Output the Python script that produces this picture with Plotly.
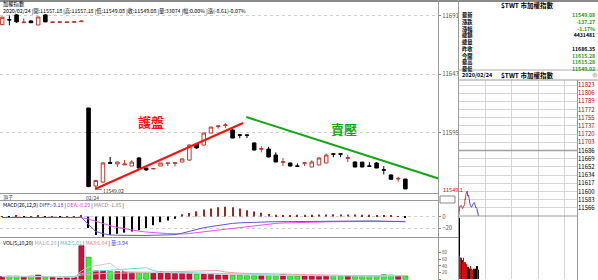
import plotly.graph_objects as go

W, H = 598, 280
FONT = "Noto Sans CJK TC"

# ---------------- data ----------------
candle_open = [11683.5, 11687.5, 11691.4, 11685.0, 11686.5, 11683.2, 11691.4, 11685.2, 11685.3, 11685.2,
               11685.4, 11685.9, 11615.28, 11551.5, 11554.7, 11570.6, 11569.5, 11568.7, 11567.8, 11574.4,
               11566.2, 11565.5, 11567.8, 11570.0, 11570.0, 11571.1, 11572.7, 11585.8, 11585.0, 11594.8,
               11600.0, 11601.0, 11597.3, 11593.4, 11593.2, 11586.7, 11581.5, 11581.7, 11576.8, 11570.8,
               11570.3, 11567.9, 11570.0, 11567.0, 11568.7, 11570.3, 11577.8, 11577.8, 11574.0, 11571.1,
               11571.0, 11567.9, 11570.3, 11564.8, 11560.5, 11557.2, 11557.18]
candle_high = [11690.0, 11691.0, 11692.0, 11688.5, 11687.0, 11690.0, 11692.0, 11685.8, 11685.9, 11685.8,
               11686.0, 11686.6, 11615.28, 11556.5, 11571.0, 11575.2, 11571.1, 11572.7, 11572.5, 11575.0,
               11566.2, 11566.0, 11570.3, 11570.5, 11570.8, 11574.0, 11585.5, 11586.5, 11595.0, 11600.0,
               11600.8, 11603.0, 11598.0, 11593.5, 11593.5, 11587.0, 11584.0, 11583.5, 11579.0, 11574.4,
               11570.5, 11570.0, 11570.5, 11572.5, 11575.2, 11578.0, 11578.0, 11578.0, 11577.0, 11571.5,
               11571.2, 11571.0, 11571.0, 11567.8, 11561.0, 11559.0, 11557.18]
candle_low = [11683.0, 11683.0, 11685.0, 11685.0, 11684.8, 11683.0, 11685.5, 11685.0, 11685.1, 11685.0,
              11685.2, 11685.8, 11550.5, 11549.02, 11554.0, 11570.0, 11567.0, 11568.7, 11567.8, 11566.0,
              11564.0, 11565.0, 11567.8, 11567.8, 11567.5, 11571.0, 11572.0, 11582.0, 11584.5, 11594.5,
              11598.5, 11599.0, 11590.5, 11590.5, 11590.7, 11580.5, 11579.0, 11575.0, 11571.0, 11567.8,
              11567.5, 11567.5, 11567.8, 11567.0, 11568.5, 11570.0, 11575.0, 11575.0, 11571.0, 11566.8,
              11566.8, 11567.5, 11566.0, 11561.0, 11556.5, 11555.0, 11549.08]
candle_close = [11689.5, 11687.3, 11685.7, 11685.5, 11685.0, 11689.7, 11685.7, 11685.6, 11685.7, 11685.6,
                11685.8, 11686.35, 11551.0, 11556.0, 11570.3, 11570.1, 11571.1, 11569.5, 11571.1, 11566.2,
                11564.6, 11565.8, 11570.3, 11570.3, 11570.5, 11573.6, 11585.0, 11582.6, 11594.8, 11599.7,
                11600.6, 11601.4, 11590.7, 11593.0, 11593.0, 11580.9, 11582.0, 11575.2, 11571.1, 11571.3,
                11567.8, 11567.6, 11570.4, 11571.1, 11574.4, 11576.8, 11577.5, 11577.5, 11574.6, 11567.0,
                11567.0, 11567.6, 11566.2, 11564.4, 11557.0, 11557.69, 11549.08]
volume = [8, 10, 10, 8, 10, 13, 6, 6, 4, 6,
          6, 100, 66, 25, 25, 23, 23, 23, 20, 20,
          20, 18, 23, 20, 18, 18, 18, 16, 16, 16,
          13, 13, 13, 13, 11, 11, 11, 11, 11, 14,
          11, 10, 10, 10, 9, 10, 11, 9, 10, 10,
          9, 11, 10, 14, 13, 10, 10]
vol_ma5 = [9, 9, 9, 9, 9.2, 10.2, 9.4, 8.6, 7.8, 7.0,
           5.6, 24.4, 36.4, 40.6, 44.4, 47.8, 32.4, 23.8, 22.8, 21.8,
           21.2, 20.2, 20.2, 20.2, 19.8, 19.4, 19.4, 18.0, 17.2, 16.8,
           15.8, 14.8, 14.2, 13.6, 12.6, 12.2, 11.8, 11.4, 11.0, 11.6,
           11.6, 11.4, 11.2, 11.0, 10.0, 9.8, 10.0, 9.8, 9.8, 10.0,
           9.8, 9.8, 10.0, 10.8, 11.4, 11.6, 11.4]
vol_ma10 = [8, 8, 8, 8, 8, 8, 8, 8, 8, 8.1,
            7.9, 16.9, 22.5, 24.2, 25.7, 26.7, 28.4, 30.1, 31.7, 33.1,
            34.5, 26.3, 22.0, 21.5, 20.8, 20.3, 19.8, 19.1, 18.7, 18.3,
            17.6, 17.1, 16.1, 15.4, 14.7, 14.0, 13.3, 12.8, 12.3, 12.1,
            11.9, 11.6, 11.3, 11.0, 10.8, 10.7, 10.7, 10.5, 10.4, 10.0,
            9.8, 9.9, 9.9, 10.3, 10.7, 10.7, 10.6]
vol_ma20 = [8, 8, 8, 8, 8, 8, 8, 8, 8, 8,
            8, 12.6, 15.5, 16.3, 17.2, 17.9, 18.7, 19.4, 20.0, 20.6,
            21.2, 21.6, 22.3, 22.9, 23.3, 23.5, 24.1, 24.6, 25.2, 25.7,
            26.1, 21.7, 19.1, 18.5, 17.8, 17.2, 16.6, 16.0, 15.5, 15.2,
            14.8, 14.4, 13.7, 13.2, 12.8, 12.4, 12.0, 11.7, 11.4, 11.1,
            10.9, 10.8, 10.6, 10.7, 10.8, 10.7, 10.7]
macd_diff = [-1.8, -1.9, -1.7, -1.9, -2.0, -1.8, -1.7, -1.9, -2.0, -2.0,
             -2.0, -1.6, -14, -26, -30, -32, -32.5, -33, -33, -33,
             -33, -32.5, -32, -31, -31.5, -29, -25.5, -22.5, -19.5, -17.5,
             -15.5, -13.5, -12, -11, -10.3, -9.8, -9.5, -9.3, -9.1, -8.9,
             -8.7, -8.5, -8.3, -8.1, -8.0, -7.9, -7.8, -7.7, -7.6, -7.6,
             -7.6, -7.7, -7.8, -8.0, -8.4, -8.7, -9.18]
macd_dea = [-1.9, -1.9, -1.8, -1.8, -1.9, -1.9, -1.8, -1.8, -1.9, -1.9,
            -2.0, -1.9, -4.5, -8.5, -12.5, -16, -19, -21.5, -23.5, -25.5,
            -27, -28.3, -29.3, -29.8, -30, -30.5, -29.5, -28, -26.5, -25,
            -23.5, -22, -20.3, -18.7, -17, -15.5, -14.2, -13, -12, -11.3,
            -10.8, -10.3, -10.0, -9.7, -9.5, -9.3, -9.1, -8.9, -8.7, -8.6,
            -8.5, -8.4, -8.3, -8.25, -8.25, -8.25, -8.29]
macd_hist = [0.8, -0.6, 1.0, -0.5, 0.7, 1.2, -0.8, 0.6, -0.4, 0.5,
             0.6, 1.0, -20, -32, -35, -32, -30, -28, -26, -24,
             -20, -15, -10, -7, -4, 4, 6, 9, 12, 14,
             16, 17, 16, 14, 11, 8.5, 6.5, 4.5, 3, 2.5,
             2.5, 3, 3, 3, 3.5, 3.5, 4, 3.5, 3.5, 3.5,
             3, 3, 2.5, 2, 1, 0.5, -1.85]

support_x = [12.9, 33.45]
support_y = [11549.0, 11603.0]
resist_x = [33.9, 60.8]
resist_y = [11607.9, 11557.2]

main_tick_vals = [11595, 11643, 11691]
main_tick_text = ["11595", "11643", "11691"]
macd_tick_vals = [0, -20]
vol_tick_vals = [0, 20, 40, 60, 80]

prev_close = 11686.35
max_change = 137.27
mini_tick_text = ["11823", "11806", "11789", "11772", "11755", "11737", "11720", "11703",
                  "11686", "11669", "11652", "11634", "11617", "11600", "11583", "11566"]
mini_hour_marks = [60, 120, 180, 240]

quote_labels = ["最新", "漲跌", "漲幅", "總額", "總量", "昨收", "今開", "最高", "最低"]
quote_values = ["11549.08", "-137.27", "-1.17%", "4431481", "", "11686.35", "11615.28", "11615.28", "11549.02"]
quote_colors = ["#1f9a1f", "#1f9a1f", "#1f9a1f", "#000000", "#000000", "#000000", "#1f9a1f", "#1f9a1f", "#1f9a1f"]

day_start = 12  # first candle of 02/24

# ---------------- figure ----------------
n = len(candle_close)
idx = list(range(n))
UP, DOWN = "#c0392b", "#000000"

def fx(p):
    return p / W

def fy(p):
    return 1 - p / H

fig = go.Figure()

fig.add_trace(go.Candlestick(
    x=idx, open=candle_open, high=candle_high, low=candle_low, close=candle_close,
    increasing=dict(line=dict(color=UP, width=1), fillcolor="white"),
    decreasing=dict(line=dict(color=DOWN, width=1), fillcolor=DOWN),
    whiskerwidth=0, showlegend=False, hoverinfo="skip", xaxis="x", yaxis="y"))
fig.add_trace(go.Scatter(x=support_x, y=support_y, mode="lines", line=dict(color="#ff1010", width=2),
                         showlegend=False, xaxis="x", yaxis="y"))
fig.add_trace(go.Scatter(x=resist_x, y=resist_y, mode="lines", line=dict(color="#16a516", width=2),
                         showlegend=False, xaxis="x", yaxis="y"))

# MACD
fig.add_trace(go.Bar(x=idx, y=macd_hist, width=0.16,
                     marker=dict(color=["#9a2a2a" if v >= 0 else "#000000" for v in macd_hist], line=dict(width=0)),
                     showlegend=False, xaxis="x2", yaxis="y2"))
fig.add_trace(go.Scatter(x=idx, y=macd_dea, mode="lines", line=dict(color="#f050f0", width=1),
                         showlegend=False, xaxis="x2", yaxis="y2"))
fig.add_trace(go.Scatter(x=idx, y=macd_diff, mode="lines", line=dict(color="#5a5ad0", width=1),
                         showlegend=False, xaxis="x2", yaxis="y2"))

# Volume
vol_up = [c >= o for o, c in zip(candle_open, candle_close)]
fig.add_trace(go.Bar(x=idx, y=volume, width=0.72,
                     marker=dict(color=["#d0103c" if u else "#3cf03c" for u in vol_up],
                                 line=dict(color=["#700020" if u else "#108010" for u in vol_up], width=0.5)),
                     showlegend=False, xaxis="x3", yaxis="y3"))
fig.add_trace(go.Scatter(x=idx, y=vol_ma20, mode="lines", line=dict(color="#f4a0a0", width=1),
                         showlegend=False, xaxis="x3", yaxis="y3"))
fig.add_trace(go.Scatter(x=idx, y=vol_ma10, mode="lines", line=dict(color="#70dada", width=1),
                         showlegend=False, xaxis="x3", yaxis="y3"))
fig.add_trace(go.Scatter(x=idx, y=vol_ma5, mode="lines", line=dict(color="#cccccc", width=1),
                         showlegend=False, xaxis="x3", yaxis="y3"))

# Mini intraday chart
day_close = candle_close[day_start:]
day_vol = volume[day_start:]
day_up = vol_up[day_start:]
minutes = list(range(len(day_close)))
peak = day_close.index(max(day_close))
fig.add_trace(go.Scatter(x=minutes[:peak + 1], y=day_close[:peak + 1], mode="lines",
                         line=dict(color="#e04040", width=1), showlegend=False, xaxis="x4", yaxis="y4"))
fig.add_trace(go.Scatter(x=minutes[peak:], y=day_close[peak:], mode="lines",
                         line=dict(color="#5050e0", width=1), showlegend=False, xaxis="x4", yaxis="y4"))
fig.add_trace(go.Bar(x=minutes, y=day_vol, width=0.9,
                     marker=dict(color=["#d01010" if u else "#000000" for u in day_up], line=dict(width=0)),
                     showlegend=False, xaxis="x5", yaxis="y5"))

step = max_change / 8
mini_tick_vals = [prev_close + (8 - i) * step for i in range(len(mini_tick_text))]
mini_tick_fmt = []
for i, t in enumerate(mini_tick_text):
    col = "#b00000" if i < 8 else "#000000"
    mini_tick_fmt.append(f"<span style='color:{col}'>{t}</span>")

main_lo = 11545.75
main_hi = 11703.6
x_range = [-0.3, 60.53]
tickfont = dict(family=FONT, size=6, color="#555555")
mini_lo = prev_close - max_change
mini_hi = mini_lo + 136 / (131 / (2 * max_change))

fig.update_layout(
    width=W, height=H, margin=dict(l=0, r=0, t=0, b=0),
    paper_bgcolor="white", plot_bgcolor="white", showlegend=False, barmode="overlay",
    font=dict(family=FONT, size=6),
    xaxis=dict(domain=[0, fx(438)], range=x_range, visible=False, rangeslider=dict(visible=False), anchor="y"),
    yaxis=dict(domain=[fy(193), fy(0)], range=[main_lo, main_hi], side="right", anchor="x",
               tickvals=main_tick_vals, ticktext=main_tick_text, tickfont=tickfont,
               showgrid=True, gridcolor="#cfcfcf", griddash="dot", gridwidth=1, zeroline=False,
               ticks="outside", ticklen=2, tickcolor="#888888", showline=False),
    xaxis2=dict(domain=[0, fx(438)], range=x_range, matches="x", visible=False, anchor="y2"),
    yaxis2=dict(domain=[fy(237), fy(200)], range=[-35.65, 28.7], side="right", anchor="x2",
                tickvals=macd_tick_vals, tickfont=tickfont, showgrid=True, gridcolor="#cfcfcf",
                griddash="dot", zeroline=False, ticks="outside", ticklen=2, tickcolor="#888888"),
    xaxis3=dict(domain=[0, fx(438)], range=x_range, matches="x", visible=False, anchor="y3"),
    yaxis3=dict(domain=[fy(280), fy(238)], range=[-2, 123], side="right", anchor="x3",
                tickvals=vol_tick_vals, tickfont=dict(family=FONT, size=4.6, color="#555555"),
                showgrid=False, zeroline=False, ticks="outside", ticklen=2, tickcolor="#888888"),
    xaxis4=dict(domain=[fx(458), fx(577)], range=[-2, 268], anchor="y4", tickvals=mini_hour_marks,
                showticklabels=False, showgrid=True, gridcolor="#d6d6d6", zeroline=False, ticks=""),
    yaxis4=dict(domain=[fy(216), fy(80)], range=[mini_lo, mini_hi],
                side="right", anchor="x4", tickvals=mini_tick_vals, ticktext=mini_tick_fmt,
                tickfont=dict(family=FONT, size=6, color="#000000"), showgrid=True, gridcolor="#d6d6d6",
                zeroline=False, ticks=""),
    xaxis5=dict(domain=[fx(458), fx(577)], range=[-2, 268], matches="x4", anchor="y5", tickvals=mini_hour_marks,
                showticklabels=False, showgrid=True, gridcolor="#d6d6d6", zeroline=False, ticks=""),
    yaxis5=dict(domain=[fy(279), fy(216)], range=[0, 68], side="right", anchor="x5",
                showticklabels=False, showgrid=False, zeroline=False),
)

# ---------------- frame lines ----------------
shapes = []
def hline(y, x0, x1, color="#9a9a9a", width=1):
    shapes.append(dict(type="line", xref="paper", yref="paper", x0=fx(x0), x1=fx(x1), y0=fy(y), y1=fy(y),
                       line=dict(color=color, width=width)))
def vline(x, y0, y1, color="#9a9a9a", width=1):
    shapes.append(dict(type="line", xref="paper", yref="paper", x0=fx(x), x1=fx(x), y0=fy(y0), y1=fy(y1),
                       line=dict(color=color, width=width)))

hline(1, 0, 598, "#8a8a8a", 2)
hline(193.5, 0, 438)
hline(200.5, 0, 438)
hline(237.5, 0, 458)
vline(438.5, 0, 280)
vline(458.5, 0, 280)
vline(577.5, 80, 280)
hline(80, 458, 598)
hline(70, 458, 598, "#b0b0b0")
hline(216, 458, 577, "#9a9a9a")
shapes.append(dict(type="line", xref="paper", yref="y4", x0=fx(458), x1=fx(577), y0=prev_close, y1=prev_close,
                   line=dict(color="#a0a0a0", width=1.5)))
# price tag box
shapes.append(dict(type="rect", xref="paper", yref="paper", x0=fx(440), x1=fx(455), y0=fy(196), y1=fy(203),
                   line=dict(color="#888888", width=1), fillcolor="white"))
fig.update_layout(shapes=shapes)

# ---------------- texts ----------------
ann = []
def txt(x, y, s, size=6, color="#000000", xanchor="left", bold=False, yanchor="middle", align="left"):
    if bold:
        s = f"<b>{s}</b>"
    ann.append(dict(x=fx(x), y=fy(y), xref="paper", yref="paper", text=s, showarrow=False,
                    xanchor=xanchor, yanchor=yanchor, align=align,
                    font=dict(family=FONT, size=size, color=color)))

txt(1, -2.2, "加權指數<br>2020/02/24 |開:11557.18 |高:11557.18 |低:11549.08 |收:11549.08 |量:33074 |幅:0.00% |漲(-8.61)-0.07%",
    5.3, yanchor="top")
txt(1, 197, "頂子", 5, "#444444")
txt(92, 197, "02/24", 5, "#444444", xanchor="center")
txt(1, 205, "MACD(26,12,9) <span style='color:#3a3ab0'>DIFF:-9.18</span> | "
            "<span style='color:#e040e0'>DEA:-8.29</span> | <span style='color:#888888'>MACD:-1.85</span> |",
    5.2)
txt(1, 242.5, "VOL(5,10,20) <span style='color:#aaaaaa'>MA1:6.20</span> | <span style='color:#40c8c8'>MA2:5.61</span> | "
              "<span style='color:#f08080'>MA3:6.04</span> | <span style='color:#4040ff'>量:3.94</span>",
    5.2)
txt(441, 190, "11549.1", 5.5, "#e00000")

# right quote table
txt(527, 5, "$TWT 市加權指數", 6.5, bold=True, xanchor="center")
label_block = "<br>".join(f"<b>{lab}</b>" for lab in quote_labels)
value_block = "<br>".join(f"<b><span style='color:{col}'>{val if val else ' '}</span></b>"
                          for val, col in zip(quote_values, quote_colors))
txt(460, 9.3, label_block, 5.2, yanchor="top")
txt(597, 9.3, value_block, 5.2, xanchor="right", yanchor="top", align="right")
txt(460, 75, "2020/02/24", 5.5, bold=True)
txt(527, 75, "$TWT 市加權指數", 6.5, bold=True, xanchor="center")
txt(595, 75, "⊕", 5.5, "#666666", xanchor="center")

# main chart labels
ann.append(dict(x=20.7, y=11604.6, xref="x", yref="y", text="<b>護盤</b>", showarrow=False,
                font=dict(family=FONT, size=13, color="#ff1010")))
ann.append(dict(x=47.5, y=11598.1, xref="x", yref="y", text="<b>賣壓</b>", showarrow=False,
                font=dict(family=FONT, size=13, color="#16a516")))
ann.append(dict(x=day_start + 1, y=min(candle_low), xref="x", yref="y", text=f"{min(candle_low):.2f}",
                showarrow=True, arrowhead=0, arrowwidth=0.8, arrowcolor="#444444", ax=18, ay=1,
                font=dict(family=FONT, size=5, color="#333333")))
fig.update_layout(annotations=ann)

fig.write_html("out.html")
